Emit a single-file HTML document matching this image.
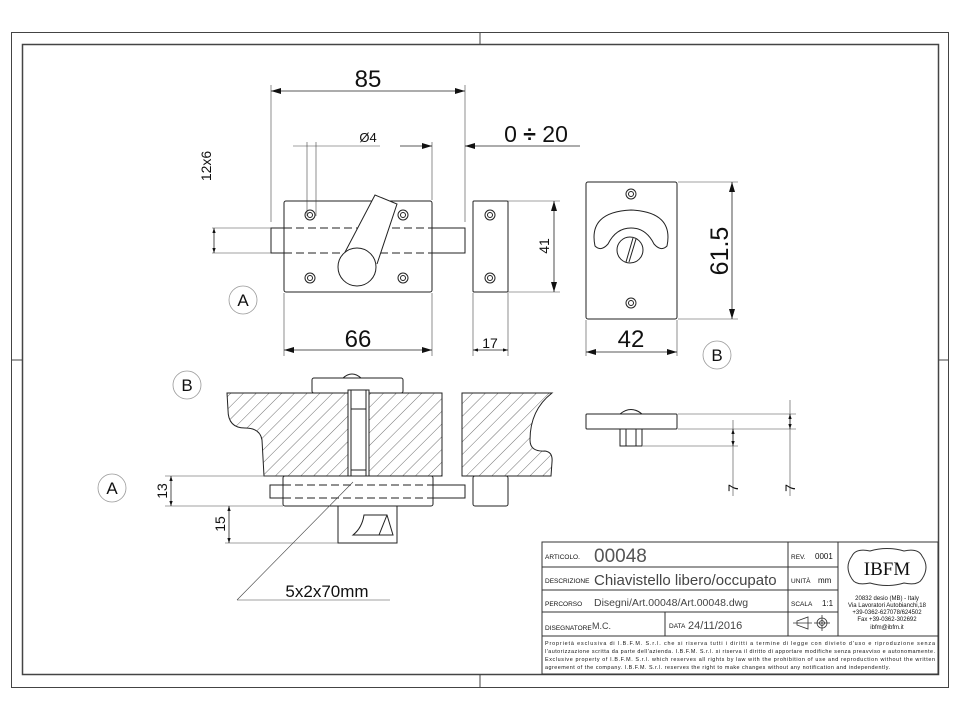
<!DOCTYPE html>
<html><head><meta charset="utf-8"><style>
html,body{margin:0;padding:0;background:#fff}
svg{display:block}
text{font-family:"Liberation Sans",sans-serif;fill:#111}
</style></head><body>
<svg width="960" height="720" viewBox="0 0 960 720" xmlns="http://www.w3.org/2000/svg">
<defs>
<marker id="ar" viewBox="0 0 10 6" refX="10" refY="3" markerWidth="10" markerHeight="6" orient="auto-start-reverse" markerUnits="userSpaceOnUse"><path d="M0,0 L10,3 L0,6 Z" fill="#111"/></marker>
<marker id="as" viewBox="0 0 6 4" refX="6" refY="2" markerWidth="5" markerHeight="3.5" orient="auto-start-reverse" markerUnits="userSpaceOnUse"><path d="M0,0 L6,2 L0,4 Z" fill="#111"/></marker>
<pattern id="hatch" patternUnits="userSpaceOnUse" width="9" height="9" patternTransform="rotate(45)"><line x1="0" y1="0" x2="0" y2="9" stroke="#333" stroke-width="0.7"/></pattern>
</defs>
<rect width="960" height="720" fill="#fff"/>
<rect x="11.5" y="32.5" width="937" height="655" fill="none" stroke="#444" stroke-width="1"/>
<rect x="22.5" y="44.5" width="916" height="630" fill="none" stroke="#444" stroke-width="1.5"/>
<g stroke="#444" stroke-width="1">
<line x1="480" y1="32" x2="480" y2="44"/><line x1="480" y1="675" x2="480" y2="687"/>
<line x1="11" y1="360" x2="22" y2="360"/><line x1="938" y1="360" x2="948" y2="360"/>
</g>

<g fill="none" stroke="#222" stroke-width="1">
<rect x="284" y="201" width="148" height="91" rx="2"/>
<rect x="271" y="228" width="13" height="25"/><rect x="432" y="228" width="33" height="25"/>
<line x1="284" y1="228" x2="432" y2="228" stroke-dasharray="8,4"/><line x1="284" y1="253" x2="432" y2="253" stroke-dasharray="8,4"/>
<circle cx="310" cy="215" r="5"/><circle cx="310" cy="215" r="2.5"/>
<circle cx="403" cy="215" r="5"/><circle cx="403" cy="215" r="2.5"/>
<circle cx="310" cy="278" r="5"/><circle cx="310" cy="278" r="2.5"/>
<circle cx="403" cy="278" r="5"/><circle cx="403" cy="278" r="2.5"/>
<path d="M343 256 L375 195 L397 204 L377 264" fill="#fff"/>
<circle cx="357" cy="267" r="19" fill="#fff"/>
<rect x="473" y="201" width="35" height="91" rx="1"/>
<circle cx="490" cy="215" r="5"/><circle cx="490" cy="215" r="2.5"/>
<circle cx="490" cy="278" r="5"/><circle cx="490" cy="278" r="2.5"/>
</g>
<g fill="none" stroke="#444" stroke-width="0.6">
<line x1="271" y1="85" x2="271" y2="222"/><line x1="465" y1="85" x2="465" y2="222"/>
<line x1="307" y1="142" x2="307" y2="216"/><line x1="316" y1="142" x2="316" y2="216"/>
<line x1="293" y1="146" x2="380" y2="146"/>
<line x1="432" y1="142" x2="432" y2="200"/>
<line x1="212" y1="228" x2="271" y2="228"/><line x1="212" y1="253" x2="271" y2="253"/>
<line x1="284" y1="293" x2="284" y2="356"/><line x1="432" y1="293" x2="432" y2="356"/>
<line x1="473" y1="293" x2="473" y2="356"/><line x1="508" y1="293" x2="508" y2="356"/>
<line x1="508" y1="201" x2="560" y2="201"/><line x1="508" y1="292" x2="560" y2="292"/>
<line x1="678" y1="182" x2="738" y2="182"/><line x1="678" y1="319" x2="738" y2="319"/>
<line x1="586" y1="320" x2="586" y2="356"/><line x1="677" y1="320" x2="677" y2="356"/>
</g>
<g stroke="#222" stroke-width="0.8" fill="none">
<line x1="271" y1="91" x2="465" y2="91" marker-start="url(#ar)" marker-end="url(#ar)"/>
<line x1="400" y1="146" x2="432" y2="146" marker-end="url(#ar)"/>
<line x1="580" y1="146" x2="465" y2="146" marker-end="url(#ar)"/>
<line x1="214" y1="228" x2="214" y2="253" marker-start="url(#as)" marker-end="url(#as)"/>
<line x1="284" y1="350" x2="432" y2="350" marker-start="url(#ar)" marker-end="url(#ar)"/>
<line x1="473" y1="350" x2="508" y2="350" marker-start="url(#as)" marker-end="url(#as)"/>
<line x1="554" y1="201" x2="554" y2="292" marker-start="url(#ar)" marker-end="url(#ar)"/>
<line x1="732" y1="182" x2="732" y2="319" marker-start="url(#ar)" marker-end="url(#ar)"/>
<line x1="586" y1="352" x2="677" y2="352" marker-start="url(#ar)" marker-end="url(#ar)"/>
</g>
<text x="368" y="87" font-size="24" text-anchor="middle">85</text>
<text x="368" y="142" font-size="13" text-anchor="middle">Ø4</text>
<text x="536" y="142" font-size="23" text-anchor="middle">0 <tspan font-weight="bold">÷</tspan> 20</text>
<text transform="translate(211,166) rotate(-90)" font-size="14" text-anchor="middle">12x6</text>
<text x="358" y="347" font-size="24" text-anchor="middle">66</text>
<text x="490" y="348" font-size="14" text-anchor="middle">17</text>
<text transform="translate(549,246) rotate(-90)" font-size="14" text-anchor="middle">41</text>
<text transform="translate(728,251) rotate(-90)" font-size="25" text-anchor="middle">61.5</text>
<text x="631" y="347" font-size="24" text-anchor="middle">42</text>

<g fill="#fff" stroke="#999" stroke-width="0.8">
<circle cx="243" cy="300" r="14"/><circle cx="717" cy="355" r="14"/>
<circle cx="187" cy="385" r="14"/><circle cx="112" cy="488" r="14"/>
</g>
<g font-size="17" text-anchor="middle">
<text x="243" y="306">A</text><text x="717" y="361">B</text>
<text x="187" y="391">B</text><text x="112" y="494">A</text>
</g>

<g fill="none" stroke="#222" stroke-width="1">
<rect x="586" y="182" width="91" height="137" rx="2"/>
<circle cx="631" cy="194" r="5"/><circle cx="631" cy="194" r="2.5"/>
<circle cx="631" cy="303" r="5"/><circle cx="631" cy="303" r="2.5"/>
<path d="M595 246 Q588 212 631 210 Q674 212 667 246 Q661 252 654 244 Q646 228 631 228 Q616 228 608 244 Q601 252 595 246 Z"/>
<circle cx="630" cy="250" r="13" fill="#fff"/>
<line x1="626" y1="262" x2="633" y2="238"/><line x1="629" y1="262" x2="636" y2="239"/>
<rect x="586" y="414" width="91" height="15" rx="1"/>
<path d="M620 414 Q631 405 642 414"/>
<rect x="620" y="429" width="22" height="17"/>
<line x1="626" y1="429" x2="626" y2="446"/><line x1="636" y1="429" x2="636" y2="446"/>
</g>
<g fill="none" stroke="#444" stroke-width="0.6">
<line x1="678" y1="414" x2="796" y2="414"/><line x1="678" y1="429" x2="796" y2="429"/>
<line x1="643" y1="446" x2="738" y2="446"/>
<line x1="733" y1="420" x2="733" y2="496"/><line x1="790" y1="400" x2="790" y2="496"/>
</g>
<g stroke="#222" stroke-width="0.8"><line x1="733" y1="429" x2="733" y2="446" marker-start="url(#as)" marker-end="url(#as)"/><line x1="790" y1="414" x2="790" y2="429" marker-start="url(#as)" marker-end="url(#as)"/></g>
<text transform="translate(738,488) rotate(-90)" font-size="14" text-anchor="middle">7</text>
<text transform="translate(795,488) rotate(-90)" font-size="14" text-anchor="middle">7</text>

<g stroke="#222" stroke-width="1">
<rect x="312" y="378" width="91" height="15" rx="2" fill="#fff"/>
<path d="M343 378 Q352 370 361 378" fill="none"/>
<path d="M227 393 L442 393 L442 476 L264 476 L262 440 Q260 428 245 428 Q228 428 228 410 Z" fill="url(#hatch)"/>
<path d="M462 393 L552 393 Q530 410 530 440 Q530 452 545 451 Q553 452 552 462 L551 476 L462 476 Z" fill="url(#hatch)"/>
<rect x="348" y="390" width="21" height="89" fill="#fff"/>
<rect x="351" y="390" width="15" height="89" fill="#fff"/>
<line x1="351" y1="409" x2="366" y2="409"/><line x1="351" y1="470" x2="366" y2="470"/>
<rect x="283" y="476" width="150" height="30" rx="2" fill="#fff"/>
<rect x="270" y="485" width="13" height="13" fill="none"/><rect x="433" y="485" width="32" height="13" fill="none"/>
<line x1="283" y1="485" x2="433" y2="485" stroke-dasharray="8,4"/><line x1="283" y1="498" x2="433" y2="498" stroke-dasharray="8,4"/>
<rect x="473" y="476" width="35" height="30" rx="2" fill="#fff"/>
<path d="M338 506 L338 543 L397 543 L397 506" fill="none"/>
<path d="M364 515 L387 515 L393 535 L353 535 Q362 528 364 515 Z" fill="none"/>
<line x1="387" y1="515" x2="379" y2="535"/>
</g>
<g fill="none" stroke="#444" stroke-width="0.6">
<line x1="165" y1="476" x2="283" y2="476"/><line x1="165" y1="506" x2="283" y2="506"/>
<line x1="225" y1="543" x2="338" y2="543"/>
<line x1="353" y1="482" x2="237" y2="600"/><line x1="237" y1="600" x2="390" y2="600"/>
</g>
<g stroke="#222" stroke-width="0.8">
<line x1="171" y1="476" x2="171" y2="506" marker-start="url(#as)" marker-end="url(#as)"/>
<line x1="229" y1="506" x2="229" y2="543" marker-start="url(#as)" marker-end="url(#as)"/>
</g>
<text transform="translate(167,491) rotate(-90)" font-size="14" text-anchor="middle">13</text>
<text transform="translate(225,524) rotate(-90)" font-size="14" text-anchor="middle">15</text>
<text x="327" y="597" font-size="17" text-anchor="middle">5x2x70mm</text>

<g fill="none" stroke="#333" stroke-width="1">
<rect x="542" y="542" width="396" height="132"/>
<line x1="542" y1="567" x2="838" y2="567"/>
<line x1="542" y1="590" x2="838" y2="590"/>
<line x1="542" y1="612" x2="838" y2="612"/>
<line x1="542" y1="636" x2="938" y2="636"/>
<line x1="788" y1="542" x2="788" y2="636"/>
<line x1="838" y1="542" x2="838" y2="636"/>
<line x1="665" y1="612" x2="665" y2="636"/>
<path d="M852 556 Q856 548 870 551 Q887 546 904 551 Q918 548 922 556 Q930 567 922 579 Q918 586 904 583 Q887 588 870 583 Q856 586 852 579 Q844 567 852 556 Z"/>
</g>
<g font-size="6.5">
<text x="545" y="559">ARTICOLO.</text>
<text x="545" y="583">DESCRIZIONE</text>
<text x="545" y="606">PERCORSO</text>
<text x="545" y="630">DISEGNATORE</text>
<text x="669" y="628">DATA</text>
<text x="791" y="559">REV.</text>
<text x="791" y="583">UNITÀ</text>
<text x="791" y="606">SCALA</text>
</g>
<text x="594" y="562" font-size="19" style="fill:#555">00048</text>
<text x="594" y="585" font-size="15" style="fill:#444">Chiavistello libero/occupato</text>
<text x="594" y="606" font-size="10.5" style="fill:#444">Disegni/Art.00048/Art.00048.dwg</text>
<text x="592" y="629" font-size="9" style="fill:#444">M.C.</text>
<text x="688" y="629" font-size="11" style="fill:#444">24/11/2016</text>
<text x="815" y="559" font-size="8">0001</text>
<text x="818" y="583" font-size="8">mm</text>
<text x="822" y="606" font-size="8">1:1</text>
<g fill="none" stroke="#333" stroke-width="0.8">
<path d="M797 621 L808 617 L808 629 L797 625 Z"/><line x1="793" y1="623" x2="812" y2="623"/>
<circle cx="822" cy="623" r="5"/><circle cx="822" cy="623" r="2.5"/><line x1="814" y1="623" x2="830" y2="623"/><line x1="822" y1="615" x2="822" y2="631"/>
</g>
<text x="887" y="575" font-size="19" text-anchor="middle" style="font-family:'Liberation Serif',serif">IBFM</text>
<g font-size="6" text-anchor="middle">
<text x="887" y="600">20832 desio (MB) - Italy</text>
<text x="887" y="607">Via Lavoratori Autobianchi,18</text>
<text x="887" y="614">+39-0362-627078/624502</text>
<text x="887" y="621">Fax +39-0362-302692</text>
<text x="887" y="629">ibfm@ibfm.it</text>
</g>
<g font-size="5.4">
<text x="545" y="645" textLength="390">Proprietà esclusiva di I.B.F.M. S.r.l. che si riserva tutti i diritti a termine di legge con divieto d'uso e riproduzione senza</text>
<text x="545" y="653" textLength="390">l'autorizzazione scritta da parte dell'azienda. I.B.F.M. S.r.l. si riserva il diritto di apportare modifiche senza preavviso e autonomamente.</text>
<text x="545" y="661" textLength="390">Exclusive property of I.B.F.M. S.r.l. which reserves all rights by law with the prohibition of use and reproduction without the written</text>
<text x="545" y="669" textLength="345">agreement of the company. I.B.F.M. S.r.l. reserves the right to make changes without any notification and independently.</text>
</g>
</svg>
</body></html>
